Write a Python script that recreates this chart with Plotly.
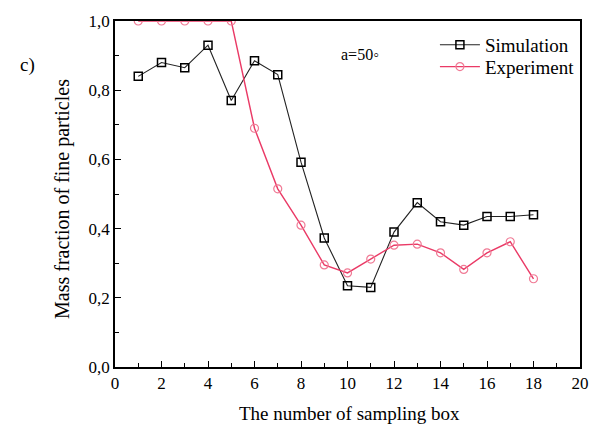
import plotly.graph_objects as go

boxes = list(range(1, 19))
simulation = [0.84, 0.88, 0.865, 0.93, 0.77, 0.885, 0.845, 0.592, 0.373, 0.235, 0.23, 0.39, 0.475, 0.42, 0.41, 0.435, 0.435, 0.44]
experiment = [1.0, 1.0, 1.0, 1.0, 1.0, 0.69, 0.515, 0.41, 0.295, 0.272, 0.312, 0.352, 0.355, 0.33, 0.282, 0.33, 0.362, 0.255]

FONT = "'Liberation Serif', 'Times New Roman', Times, serif"
PINK = "#ea3a66"


def px(xp):
    return (xp - 115) / 465


def py(yp):
    return (367 - yp) / 348


fig = go.Figure()
fig.add_trace(go.Scatter(
    x=boxes, y=simulation, mode="lines+markers", name="Simulation", legend="legend",
    line=dict(color="#222222", width=1.1),
    marker=dict(symbol="square-open", size=8, color="black", line=dict(width=1.5)),
))
fig.add_trace(go.Scatter(
    x=boxes, y=experiment, mode="lines+markers", name="Experiment", legend="legend2",
    line=dict(color=PINK, width=1.4),
    marker=dict(symbol="circle-open", size=8, color="#f07a95", line=dict(width=1.2)),
))

axis_common = dict(
    showgrid=False, zeroline=False, showline=True, linecolor="black", linewidth=1.5,
    mirror=True, ticks="inside", ticklen=6, tickwidth=1.2, tickcolor="black",
    tickfont=dict(family=FONT, size=17, color="black"),
)
fig.update_xaxes(
    range=[0, 20], dtick=2, tick0=0,
    minor=dict(dtick=1, ticks="inside", ticklen=4, tickcolor="black", tickwidth=1.2),
    **axis_common,
)
fig.update_yaxes(
    range=[0, 1.0], dtick=0.2, tick0=0, tickformat=".1f",
    minor=dict(dtick=0.1, ticks="inside", ticklen=4, tickcolor="black", tickwidth=1.2),
    **axis_common,
)

legend_common = dict(xanchor="left", yanchor="middle",
                     font=dict(family=FONT, size=19, color="black"),
                     bgcolor="rgba(0,0,0,0)", itemwidth=40)
fig.update_layout(
    width=605, height=424,
    margin=dict(l=115, r=25, t=19, b=57),
    paper_bgcolor="white", plot_bgcolor="white",
    separators=",.",
    showlegend=True,
    legend=dict(x=0.688, y=py(43), **legend_common),
    legend2=dict(x=0.688, y=py(65), **legend_common),
)

fig.add_annotation(xref="paper", yref="paper", x=px(27), y=py(63), text="c)",
                   xanchor="center", yanchor="middle",
                   showarrow=False, font=dict(family=FONT, size=19, color="black"))
fig.add_annotation(x=10.54, y=0.902, xref="x", yref="y", text="a=50◦", showarrow=False,
                   xanchor="center", yanchor="middle",
                   font=dict(family=FONT, size=16, color="black"))
fig.add_annotation(xref="paper", yref="paper", x=px(349), y=py(414),
                   xanchor="center", yanchor="middle",
                   text="The number of sampling box", showarrow=False,
                   font=dict(family=FONT, size=19, color="black"))
fig.add_annotation(xref="paper", yref="paper", x=px(63), y=py(198),
                   xanchor="center", yanchor="middle",
                   text="Mass fraction of fine particles", showarrow=False, textangle=-90,
                   font=dict(family=FONT, size=20, color="black"))

fig.write_html("out.html")
